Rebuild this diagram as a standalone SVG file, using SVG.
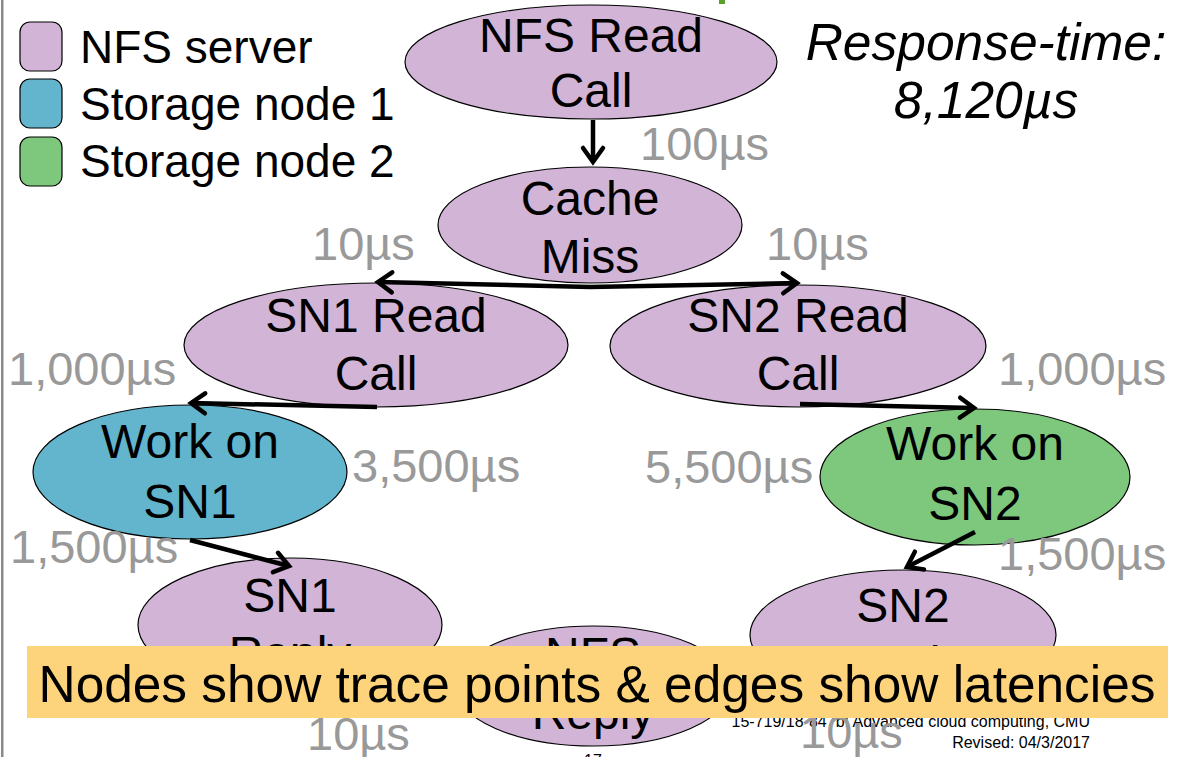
<svg xmlns="http://www.w3.org/2000/svg" width="1179" height="757" viewBox="0 0 1179 757">
<defs>
<marker id="chev" viewBox="0 0 20 24" refX="17" refY="12" markerWidth="20" markerHeight="24" markerUnits="userSpaceOnUse" orient="auto" overflow="visible">
<path d="M3,2 L17,12 L3,22" fill="none" stroke="#000" stroke-width="4.5" stroke-linecap="round" stroke-linejoin="miter"/>
</marker>
</defs>
<style>
text{font-family:"Liberation Sans",Arial,sans-serif;}
.node{stroke:#000;stroke-width:1.2;}
.nfs{fill:#D2B4D7;}
.sn1{fill:#62B5CD;}
.sn2{fill:#7DC87D;}
.nt{font-size:48px;fill:#000;text-anchor:middle;}
.lat{font-size:47px;fill:#999999;}
.leg{font-size:46px;fill:#000;}
.edge{stroke:#000;stroke-width:4.5;fill:none;marker-end:url(#chev);}
.foot{font-size:16px;fill:#000;}
</style>
<rect x="0" y="0" width="1179" height="757" fill="#fff"/>
<rect x="1" y="0" width="2.5" height="757" fill="#8a8a8a"/>
<rect x="719" y="0" width="6" height="4" fill="#5aa02c"/>

<g id="legend">
<rect x="20" y="22" width="42" height="49" rx="10" class="node nfs"/>
<rect x="20" y="79" width="42" height="49" rx="10" class="node sn1"/>
<rect x="20" y="137" width="42" height="49" rx="10" class="node sn2"/>
<text x="80" y="63" class="leg">NFS server</text>
<text x="80" y="120" class="leg">Storage node 1</text>
<text x="80" y="177" class="leg">Storage node 2</text>
</g>

<g id="response-time">
<text x="986" y="60" font-size="51.5" font-style="italic" text-anchor="middle">Response-time:</text>
<text x="986" y="118" font-size="51.5" font-style="italic" text-anchor="middle">8,120µs</text>
</g>

<g id="footer">
<text x="1090" y="727" class="foot" text-anchor="end">15-719/18-847b: Advanced cloud computing, CMU</text>
<text x="1090" y="748" class="foot" text-anchor="end">Revised: 04/3/2017</text>
<text x="593" y="766" class="foot" text-anchor="middle">17</text>
</g>

<g id="n-nfs-read-call">
<ellipse cx="591" cy="62" rx="186" ry="57" class="node nfs"/>
<text x="591" y="52" class="nt">NFS Read</text>
<text x="591" y="107" class="nt">Call</text>
</g>
<g id="n-cache-miss">
<ellipse cx="590" cy="225" rx="152" ry="58" class="node nfs"/>
<text x="590" y="215" class="nt">Cache</text>
<text x="590" y="273" class="nt">Miss</text>
</g>
<g id="n-sn1-read-call">
<ellipse cx="376" cy="345" rx="192" ry="62" class="node nfs"/>
<text x="376" y="332" class="nt">SN1 Read</text>
<text x="376" y="390" class="nt">Call</text>
</g>
<g id="n-sn2-read-call">
<ellipse cx="798" cy="346" rx="188" ry="61" class="node nfs"/>
<text x="798" y="332" class="nt">SN2 Read</text>
<text x="798" y="390" class="nt">Call</text>
</g>
<g id="n-work-sn1">
<ellipse cx="190" cy="472" rx="157" ry="67" class="node sn1"/>
<text x="190" y="458" class="nt">Work on</text>
<text x="190" y="518" class="nt">SN1</text>
</g>
<g id="n-work-sn2">
<ellipse cx="975" cy="477" rx="155" ry="68" class="node sn2"/>
<text x="975" y="460" class="nt">Work on</text>
<text x="975" y="520" class="nt">SN2</text>
</g>
<g id="n-sn1-reply">
<ellipse cx="290" cy="625" rx="152" ry="67" class="node nfs"/>
<text x="290" y="612" class="nt">SN1</text>
<text x="290" y="670" class="nt">Reply</text>
</g>
<g id="n-sn2-reply">
<ellipse cx="903" cy="635" rx="153" ry="65" class="node nfs"/>
<text x="903" y="622" class="nt">SN2</text>
<text x="903" y="680" class="nt">Reply</text>
</g>
<g id="n-nfs-reply">
<ellipse cx="593" cy="686" rx="138" ry="60" class="node nfs"/>
<text x="593" y="671" class="nt">NFS</text>
<text x="593" y="729" class="nt">Reply</text>
</g>

<g id="connectors">
<path d="M593,120 L593,162" class="edge"/>
<path d="M590,287 L378,282" class="edge"/>
<path d="M590,287 L797,283" class="edge"/>
<path d="M377,407 L191,403" class="edge"/>
<path d="M800,404 L974,408" class="edge"/>
<path d="M190,540 L289,566" class="edge"/>
<path d="M975,532 L907,567" class="edge"/>
</g>

<g id="latencies">
<text x="640" y="160" class="lat">100µs</text>
<text x="312" y="260" class="lat">10µs</text>
<text x="766" y="260" class="lat">10µs</text>
<text x="8" y="385" class="lat">1,000µs</text>
<text x="998" y="385" class="lat">1,000µs</text>
<text x="352" y="482" class="lat">3,500µs</text>
<text x="645" y="483" class="lat">5,500µs</text>
<text x="10" y="563" class="lat">1,500µs</text>
<text x="998" y="570" class="lat">1,500µs</text>
<text x="307" y="750" class="lat">10µs</text>
<text x="800" y="748" class="lat">10µs</text>
</g>

<g id="banner">
<rect x="27" y="646" width="1141" height="72" fill="#FDD47B"/>
<text x="597" y="702" font-size="51.4" text-anchor="middle" fill="#000">Nodes show trace points &amp; edges show latencies</text>
</g>
</svg>
